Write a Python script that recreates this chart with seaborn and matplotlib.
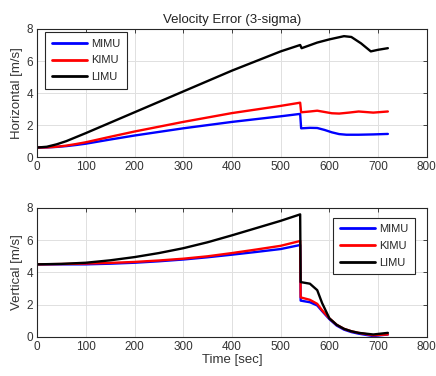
import numpy as np
import pandas as pd
import matplotlib
matplotlib.use("Agg")
import matplotlib.pyplot as plt
import seaborn as sns

# ---- data ----
series_names = ["MIMU", "KIMU", "LIMU"]
colors = ["#0000ff", "#ff0000", "#000000"]

# Horizontal
h_mimu_t = [0, 20, 40, 60, 80, 100, 150, 200, 300, 400, 500, 540, 542, 560, 575, 590, 605, 620, 635, 660, 690, 720]
h_mimu_v = [0.6, 0.61, 0.64, 0.69, 0.76, 0.84, 1.1, 1.35, 1.8, 2.2, 2.55, 2.7, 1.8, 1.83, 1.82, 1.7, 1.55, 1.44, 1.4, 1.4, 1.42, 1.45]
h_kimu_t = [0, 20, 40, 60, 80, 100, 150, 200, 300, 400, 500, 540, 542, 560, 575, 590, 605, 620, 640, 660, 690, 720]
h_kimu_v = [0.6, 0.61, 0.65, 0.72, 0.82, 0.93, 1.27, 1.6, 2.2, 2.75, 3.2, 3.4, 2.8, 2.85, 2.9, 2.82, 2.74, 2.72, 2.78, 2.85, 2.78, 2.85]
h_limu_t = [0, 20, 40, 60, 80, 100, 150, 200, 300, 400, 500, 540, 543, 575, 600, 630, 645, 665, 685, 700, 720]
h_limu_v = [0.6, 0.65, 0.8, 1.0, 1.25, 1.5, 2.15, 2.8, 4.1, 5.4, 6.6, 7.0, 6.8, 7.15, 7.35, 7.55, 7.5, 7.1, 6.6, 6.7, 6.8]

# Vertical
v_mimu_t = [0, 50, 100, 150, 200, 250, 300, 350, 400, 450, 500, 540, 541, 560, 575, 585, 600, 615, 630, 645, 660, 690, 720]
v_mimu_v = [4.5, 4.5, 4.5, 4.54, 4.6, 4.69, 4.8, 4.94, 5.1, 5.27, 5.45, 5.7, 2.25, 2.15, 1.95, 1.6, 1.1, 0.7, 0.45, 0.3, 0.2, 0.05, 0.15]
v_kimu_t = [0, 50, 100, 150, 200, 250, 300, 350, 400, 450, 500, 540, 541, 560, 575, 585, 600, 615, 630, 645, 660, 690, 720]
v_kimu_v = [4.5, 4.52, 4.55, 4.59, 4.65, 4.74, 4.85, 5.0, 5.2, 5.42, 5.65, 5.95, 2.45, 2.3, 2.05, 1.65, 1.15, 0.75, 0.5, 0.35, 0.25, 0.1, 0.15]
v_limu_t = [0, 50, 100, 150, 200, 250, 300, 350, 400, 450, 500, 540, 541, 560, 575, 585, 600, 615, 630, 645, 660, 690, 720]
v_limu_v = [4.5, 4.53, 4.6, 4.75, 4.95, 5.2, 5.5, 5.87, 6.3, 6.75, 7.2, 7.6, 3.4, 3.3, 2.9, 2.1, 1.15, 0.75, 0.5, 0.35, 0.25, 0.15, 0.25]

def long_df(ts, vs):
    frames = []
    for name, t, v in zip(series_names, ts, vs):
        frames.append(pd.DataFrame({"t": t, "v": v, "s": name}))
    return pd.concat(frames, ignore_index=True)

df_h = long_df([h_mimu_t, h_kimu_t, h_limu_t], [h_mimu_v, h_kimu_v, h_limu_v])
df_v = long_df([v_mimu_t, v_kimu_t, v_limu_t], [v_mimu_v, v_kimu_v, v_limu_v])

sns.set_style("whitegrid")
plt.rcParams["font.family"] = ["Liberation Sans", "DejaVu Sans"]
plt.rcParams["axes.unicode_minus"] = False

fig = plt.figure(figsize=(4.36, 3.76), dpi=100)
ax1 = fig.add_axes([0.085, 0.582, 0.894, 0.341])
ax2 = fig.add_axes([0.085, 0.104, 0.894, 0.343])

palette = dict(zip(series_names, colors))
for ax, df in ((ax1, df_h), (ax2, df_v)):
    sns.lineplot(data=df, x="t", y="v", hue="s", palette=palette, ax=ax,
                 linewidth=1.7, estimator=None, sort=False)
    ax.set_xlim(0, 800)
    ax.set_ylim(0, 8)
    ax.set_xticks(range(0, 801, 100))
    ax.set_yticks([0, 2, 4, 6, 8])
    ax.grid(True, color="#e0e0e0", linewidth=0.7)
    for sp in ax.spines.values():
        sp.set_visible(True)
        sp.set_color("#262626")
        sp.set_linewidth(0.8)
    ax.tick_params(axis="both", direction="in", length=3, width=0.6, color="#262626",
                   labelsize=8.5, labelcolor="#333333", top=True, right=True, pad=3)
    ax.set_xlabel("")

ax1.set_ylabel("Horizontal [m/s]", fontsize=9.5, color="#333333", labelpad=2)
ax2.set_ylabel("Vertical [m/s]", fontsize=9.5, color="#333333", labelpad=2)
ax2.set_xlabel("Time [sec]", fontsize=9.5, color="#333333", labelpad=1)
ax1.set_title("Velocity Error (3-sigma)", fontsize=9.5, color="#222222", pad=4)

for ax, loc, anchor in ((ax1, "upper left", (0.02, 0.975)),
                        (ax2, "upper right", (0.97, 0.925))):
    h, l = ax.get_legend_handles_labels()
    leg = ax.legend(h, l, loc=loc, fontsize=8, frameon=True, fancybox=False,
                    edgecolor="#262626", framealpha=1, handlelength=3.2,
                    handletextpad=0.35, borderpad=0.6, labelspacing=0.6,
                    borderaxespad=0, bbox_to_anchor=anchor)
    leg.get_frame().set_linewidth(0.8)
    for line in leg.get_lines():
        line.set_linewidth(2.0)

fig.savefig("out.png", dpi=100)
